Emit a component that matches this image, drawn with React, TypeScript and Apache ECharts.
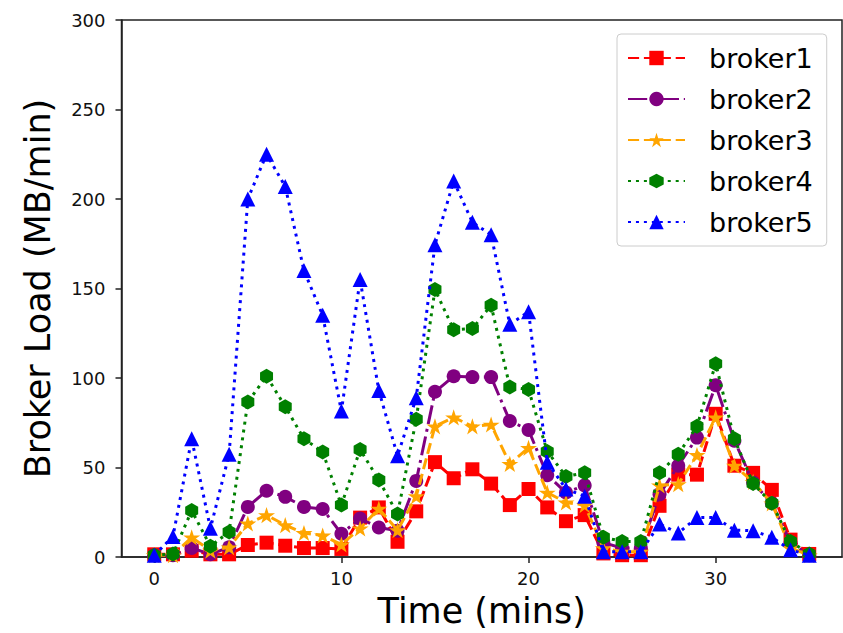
import React, { useEffect, useRef } from "react";
import * as echarts from "echarts";

// Time in minutes (x values)
const minutes: number[] = Array.from({ length: 36 }, (_, i) => i);

// Per-broker load in MB/min
const broker1: number[] = [1.5, 1.5, 3.5, 1.5, 1.5, 6.7, 8, 6.3, 5, 5, 4.5, 22, 27.7, 8.5, 25.5, 53, 44, 49, 41, 29, 38, 27.7, 20, 23.4, 2, 1, 1, 28.6, 46, 46, 80, 51, 47, 37.5, 9.7, 1.7];
const broker2: number[] = [1, 1, 5, 1.6, 5.4, 28, 37, 33.6, 28, 26.8, 13, 21.5, 16.5, 14.7, 42.5, 92.3, 101, 100.5, 100.5, 76, 71, 45.7, 36, 40, 8, 5, 5, 35, 51, 66.7, 96, 65, 41.6, 30, 8, 1];
const broker3: number[] = [1, 1, 11, 3.5, 5.4, 18.7, 23.4, 17.8, 13.4, 12, 7, 16, 27, 15, 34, 73, 78, 73, 74, 52, 61, 36, 30.5, 29, 5, 3, 3, 40, 40.7, 57, 78, 51, 42, 30, 5, 1];
const broker4: number[] = [1, 1.7, 26, 6, 14, 86.6, 101, 84, 66, 58.7, 29, 60, 43, 24, 77, 149.4, 127, 127.6, 140.6, 95, 93.6, 59, 45, 47, 11, 8.7, 8.7, 47, 57.4, 73, 108, 66, 41, 30, 8.7, 1.7];
const broker5: number[] = [1, 11.5, 66, 16, 57.4, 200, 225, 207, 160, 135, 81.5, 155, 93, 56.5, 89, 174.5, 210, 187, 180, 130, 137, 53, 38, 34, 3, 3, 3, 18.4, 13.4, 22, 22, 15, 14.7, 11, 4, 1];

const seriesNames: string[] = ["broker1", "broker2", "broker3", "broker4", "broker5"];
const xTicks: number[] = [0, 10, 20, 30];

const FONT = "DejaVu Sans";
const LW = 3;

const STAR =
  "path://M0,-1 L0.2245,-0.309 L0.951,-0.309 L0.363,0.118 L0.588,0.809 L0,0.382 L-0.588,0.809 L-0.363,0.118 L-0.951,-0.309 L-0.2245,-0.309 Z";
const HEXAGON =
  "path://M0,-1 L0.866,-0.5 L0.866,0.5 L0,1 L-0.866,0.5 L-0.866,-0.5 Z";

type Style = { color: string; dash: number[]; symbol: string; size: number };

const styles: Style[] = [
  { color: "#ff0000", dash: [3.7 * LW, 1.6 * LW], symbol: "rect", size: 14 },
  { color: "#800080", dash: [6.4 * LW, 1.6 * LW, 1 * LW, 1.6 * LW], symbol: "circle", size: 14 },
  { color: "#ffa500", dash: [3.7 * LW, 1.6 * LW], symbol: STAR, size: 17 },
  { color: "#008000", dash: [1 * LW, 1.65 * LW], symbol: HEXAGON, size: 15 },
  { color: "#0000ff", dash: [1 * LW, 1.65 * LW], symbol: "triangle", size: 15 },
];

const allSeries = [broker1, broker2, broker3, broker4, broker5];

export default function App() {
  const ref = useRef<HTMLDivElement>(null);

  useEffect(() => {
    if (!ref.current) return;
    const chart = echarts.init(ref.current, null, { renderer: "svg" });

    const series = allSeries.map((vals, k) => ({
      name: seriesNames[k],
      type: "line",
      data: minutes.map((m, i) => [m, vals[i]]),
      symbol: styles[k].symbol,
      symbolSize: styles[k].size,
      symbolKeepAspect: true,
      showAllSymbol: true,
      lineStyle: { color: styles[k].color, width: LW, type: styles[k].dash },
      itemStyle: { color: styles[k].color, borderWidth: 0, opacity: 1 },
      emphasis: { disabled: true },
      z: 2 + k,
    }));

    chart.setOption({
      animation: false,
      backgroundColor: "#ffffff",
      textStyle: { fontFamily: FONT },
      grid: {
        left: 121.5,
        top: 20,
        right: 1,
        bottom: 75,
        show: true,
        borderColor: "#222",
        borderWidth: 1.5,
        backgroundColor: "transparent",
      },
      legend: {
        data: seriesNames,
        orient: "vertical",
        left: 617,
        top: 34,
        padding: [9, 14, 9, 10],
        itemGap: 11,
        itemWidth: 57,
        itemHeight: 18,
        backgroundColor: "rgba(255,255,255,0.8)",
        borderColor: "#cccccc",
        borderWidth: 1,
        borderRadius: 4,
        textStyle: {
          fontFamily: FONT,
          fontSize: 27,
          color: "#000",
          lineHeight: 30,
          padding: [0, 0, 0, 19],
        },
      },
      xAxis: {
        type: "value",
        min: -1.75,
        max: 36.75,
        name: "Time (mins)",
        nameLocation: "middle",
        nameGap: 36,
        nameTextStyle: { fontFamily: FONT, fontSize: 35, color: "#000" },
        axisLine: { show: true, onZero: false, lineStyle: { color: "#222", width: 1.5 } },
        axisTick: { show: true, length: 6, customValues: xTicks, lineStyle: { color: "#222", width: 1.5 } },
        axisLabel: { customValues: xTicks, fontFamily: FONT, fontSize: 18, color: "#111", margin: 12 },
        splitLine: { show: false },
      },
      yAxis: {
        type: "value",
        min: 0,
        max: 300,
        interval: 50,
        name: "Broker Load (MB/min)",
        nameLocation: "middle",
        nameGap: 66,
        nameTextStyle: { fontFamily: FONT, fontSize: 35, color: "#000" },
        axisLine: { show: true, onZero: false, lineStyle: { color: "#222", width: 1.5 } },
        axisTick: { show: true, length: 6, lineStyle: { color: "#222", width: 1.5 } },
        axisLabel: { fontFamily: FONT, fontSize: 18, color: "#111", margin: 16 },
        splitLine: { show: false },
      },
      series,
    });

    return () => chart.dispose();
  }, []);

  return (
    <div
      ref={ref}
      style={{ position: "fixed", left: 0, top: 0, width: 843, height: 633 }}
    />
  );
}
